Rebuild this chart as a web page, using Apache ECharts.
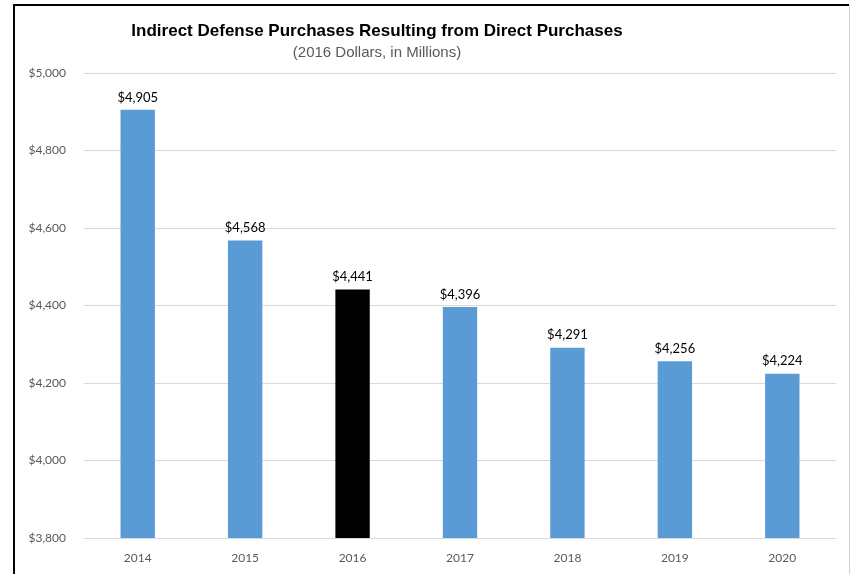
<!DOCTYPE html>
<html>
<head>
<meta charset="utf-8">
<script src="https://cdn.jsdelivr.net/npm/echarts@6/dist/echarts.min.js"></script>
<style>
  html, body { margin: 0; padding: 0; background: #ffffff; }
  #chart { width: 853px; height: 574px; }
</style>
</head>
<body>
<div id="chart"></div>
<script>
// Fiscal years on the category axis
const years = ['2014', '2015', '2016', '2017', '2018', '2019', '2020'];
// Indirect purchases, millions of 2016 dollars
const purchases = [4905, 4568, 4441, 4396, 4291, 4256, 4224];
// Value axis range and step
const yMin = 3800;
const yMax = 5000;
const yStep = 200;
// The base year is highlighted
const baseYear = '2016';

const blue = '#5B9BD5';
const highlight = '#000000';

const chart = echarts.init(document.getElementById('chart'), null, { renderer: 'canvas' });

const fmt = v => '$' + v.toLocaleString('en-US');

chart.setOption({
  backgroundColor: '#ffffff',
  animation: false,
  title: [
    {
      text: 'Indirect Defense Purchases Resulting from Direct Purchases',
      left: 372, top: 18, textAlign: 'center',
      textStyle: {
        fontFamily: '"Liberation Sans Narrow", "Arial Narrow", "Liberation Sans", sans-serif',
        fontWeight: 'bold', fontSize: 17, color: '#000000'
      }
    },
    {
      text: '(2016 Dollars, in Millions)',
      left: 372, top: 40, textAlign: 'center',
      textStyle: {
        fontFamily: '"Liberation Sans Narrow", "Arial Narrow", "Liberation Sans", sans-serif',
        fontWeight: 'normal', fontSize: 15, color: '#595959'
      }
    }
  ],
  grid: { left: 84, right: 17, top: 73, bottom: 36, containLabel: false },
  xAxis: {
    type: 'category',
    data: years,
    axisLine: { show: true, lineStyle: { color: '#d9d9d9', width: 1 } },
    axisTick: { show: false },
    axisLabel: { color: '#595959', fontFamily: 'Lato, "Open Sans", sans-serif', fontSize: 12, margin: 14 }
  },
  yAxis: {
    type: 'value',
    min: yMin, max: yMax, interval: yStep,
    axisLine: { show: false },
    axisTick: { show: false },
    splitLine: { show: true, lineStyle: { color: '#d9d9d9', width: 1 } },
    axisLabel: {
      color: '#595959', fontFamily: 'Lato, "Open Sans", sans-serif', fontSize: 12, margin: 18,
      formatter: v => fmt(v)
    }
  },
  series: [{
    type: 'bar',
    barWidth: '32%',
    data: purchases.map((v, i) => ({
      value: v,
      itemStyle: { color: years[i] === baseYear ? highlight : blue }
    })),
    label: {
      show: true, position: 'top', distance: 6,
      color: '#000000', fontFamily: 'Lato, "Open Sans", sans-serif', fontSize: 13,
      formatter: p => fmt(p.value)
    }
  }],
  graphic: [
    { type: 'line', shape: { x1: 14, y1: 5, x2: 14, y2: 574 }, style: { stroke: '#000000', lineWidth: 2 } },
    { type: 'line', shape: { x1: 13, y1: 5, x2: 849, y2: 5 }, style: { stroke: '#000000', lineWidth: 2 } },
    { type: 'line', shape: { x1: 849.5, y1: 5, x2: 849.5, y2: 574 }, style: { stroke: '#d0d0d0', lineWidth: 1 } }
  ]
});
</script>
</body>
</html>
